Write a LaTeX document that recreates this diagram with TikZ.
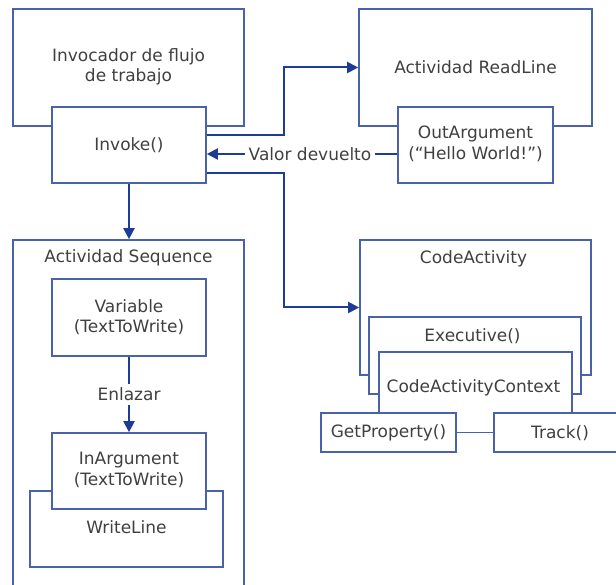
\documentclass[tikz,border=0pt]{standalone}
\usepackage{fontspec}
\setmainfont{DejaVu Sans}
\usetikzlibrary{arrows.meta}
\definecolor{boxblue}{HTML}{4A63A8}
\definecolor{arrblue}{HTML}{1C3C98}
\definecolor{txt}{HTML}{404040}
\tikzset{
  box/.style={draw=boxblue, line width=1.6pt, fill=white, inner sep=0pt},
  openbox/.style={fill=white, inner sep=0pt},
  lbl/.style={text=txt, font=\fontsize{17}{20.5}\selectfont, align=center, inner sep=1pt},
  arr/.style={draw=arrblue, line width=2pt, -{Triangle[length=11pt,width=11pt]}},
  con/.style={draw=boxblue, line width=1.6pt}
}
\begin{document}
\begin{tikzpicture}[x=1pt,y=-1pt]
\useasboundingbox (0,0) rectangle (616,585);
\begin{scope}
\clip (0,0) rectangle (616,585);
% workflow invoker and its Invoke() method
\node[box, minimum width=231pt, minimum height=117pt] (invoc) at (128.5,67.5) {};
\node[lbl] (invoctxt) at (128.5,67) {Invocador de flujo\\de trabajo};
\node[box, minimum width=154pt, minimum height=76pt] (invoke) at (129,145) {};
\node[lbl] (invoketxt) at (129,145) {Invoke()};
% ReadLine activity with its output argument
\node[box, minimum width=233pt, minimum height=117pt] (readline) at (475.5,67.5) {};
\node[lbl] (readlinetxt) at (475.5,67) {Actividad ReadLine};
\node[box, minimum width=155pt, minimum height=76pt] (outarg) at (475.5,145) {};
\node[lbl] (outargtxt) at (475.5,144) {OutArgument\\(“Hello World!”)};
% Sequence activity
\node[box, minimum width=231pt, minimum height=380pt] (seq) at (128.5,430) {};
\node[lbl] (seqtxt) at (128.5,258) {Actividad Sequence};
\node[box, minimum width=154pt, minimum height=77pt] (var) at (129,317.5) {};
\node[lbl] (vartxt) at (129,317) {Variable\\(TextToWrite)};
\node[box, minimum width=193pt, minimum height=76pt] (wline) at (126.5,529) {};
\node[lbl] (wlinetxt) at (126.5,527) {WriteLine};
\node[box, minimum width=154pt, minimum height=76pt] (inarg) at (129,471) {};
\node[lbl] (inargtxt) at (129,470) {InArgument\\(TextToWrite)};
% CodeActivity stack
\node[box, minimum width=231pt, minimum height=135pt] (codeact) at (475.5,307.5) {};
\node[lbl] (codeacttxt) at (473.5,259) {CodeActivity};
\node[box, minimum width=212pt, minimum height=77pt] (exec) at (475,355.5) {};
\node[lbl] (exectxt) at (472.5,336) {Executive()};
\node[openbox, minimum width=193pt, minimum height=61pt] (ctx) at (475.5,382.5) {};
\draw[con] (ctx.south west) -- (ctx.north west) -- (ctx.north east) -- (ctx.south east);
\node[lbl] (ctxtxt) at (473.5,388) {CodeActivityContext};
\node[box, minimum width=135pt, minimum height=39pt] (getprop) at (388.5,432.5) {};
\node[lbl] (getproptxt) at (388.5,433) {GetProperty()};
\node[box, minimum width=136pt, minimum height=39pt] (track) at (562,432.5) {};
\node[lbl] (tracktxt) at (560,433) {Track()};
\end{scope}
% connectors
\draw[con] (getprop.east) -- (track.west);
\draw[arr] (invoke.south) -- (invoke.south |- seq.north);
\draw[arr] ([yshift=10pt]invoke.east) -- ++(77,0) |- (readline.west);
\draw[arr] ([yshift=-28pt]invoke.east) -- ++(77,0) |- (codeact.west);
\draw[arr] ([yshift=-9pt]outarg.west) -- node[lbl, fill=white, pos=0.458, inner xsep=4pt] (valor) {Valor devuelto} ([yshift=-9pt]invoke.east);
\draw[arr] (var.south) -- node[lbl, fill=white, inner ysep=4pt] (enl) {Enlazar} (inarg.north);
\end{tikzpicture}
\end{document}
